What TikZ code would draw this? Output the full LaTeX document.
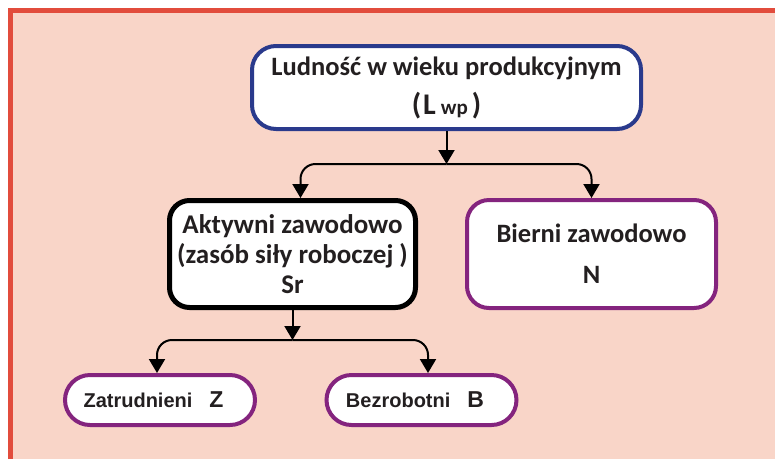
\documentclass[tikz,border=0pt]{standalone}
\usepackage{fontspec}
\setmainfont{Carlito}
\newfontfamily\arialbold{Liberation Sans}
\usetikzlibrary{arrows.meta}
\definecolor{bgpink}{RGB}{249,213,200}
\definecolor{framered}{RGB}{226,76,60}
\definecolor{boxblue}{RGB}{42,58,140}
\definecolor{boxpurple}{RGB}{132,36,126}
\definecolor{textdark}{RGB}{35,31,32}

\begin{document}
\begin{tikzpicture}[
  x=1pt, y=-1pt,
  every node/.style={text=textdark},
  topbox/.style={draw=boxblue, line width=4pt, rounded corners=24pt, fill=white, align=center, inner sep=0pt, minimum width=389pt, minimum height=83pt, font=\bfseries\fontsize{26.5}{36}\selectfont},
  midbox/.style={draw=black, line width=5pt, rounded corners=20pt, fill=white, align=center, inner sep=0pt, minimum width=246pt, minimum height=107pt, font=\bfseries\fontsize{27}{30}\selectfont},
  sidebox/.style={draw=boxpurple, line width=4pt, rounded corners=22pt, fill=white, align=center, inner sep=0pt, minimum width=249pt, minimum height=108pt, font=\bfseries\fontsize{26.5}{38}\selectfont},
  pill/.style={draw=boxpurple, line width=4pt, rounded corners=25pt, fill=white, align=center, inner sep=0pt, minimum width=190pt, minimum height=50pt, font=\arialbold\bfseries\fontsize{20}{22}\selectfont},
  arr/.style={-{Triangle[width=16pt,length=14pt]}, line width=2pt},
  branch/.style={arr, rounded corners=15pt}
]
\useasboundingbox (0,0) rectangle (775,459);
% frame
\fill[bgpink] (10,10) rectangle (775,459);
\draw[framered, line width=5pt] (10,459) -- (10,10) -- (775,10);

\node[topbox] (lwp) at (446.5,87.5) {Ludność w wieku produkcyjnym\\[3pt]
  {\fontsize{30}{36}\selectfont (\hspace{2pt}L\hspace{5pt}{\fontsize{21}{20}\selectfont wp}\hspace{4pt})}};
\node[midbox] (akt) at (292.5,254) {Aktywni zawodowo\\(zasób siły roboczej )\\Sr};
\node[sidebox] (bier) at (591.5,254) {Bierni zawodowo\\[3pt]N};
\node[pill] (zat) at (160,400) {Zatrudnieni\hspace{17pt}{\fontsize{23}{22}\selectfont Z}\hspace{13pt}};
\node[pill] (bez) at (421.5,400) {Bezrobotni\hspace{17pt}{\fontsize{23}{22}\selectfont B}\hspace{13pt}};

\coordinate (lvl1) at (0,164);
\coordinate (lvl2) at (0,340);

\draw[arr] (lwp.south) -- (lwp.south |- lvl1);
\draw[branch] (lwp.south |- lvl1) -| ([xshift=8pt]akt.north);
\draw[branch] (lwp.south |- lvl1) -| (bier.north);
\draw[arr] (akt.south) -- (akt.south |- lvl2);
\draw[branch] (akt.south |- lvl2) -| ([xshift=-3pt]zat.north);
\draw[branch] (akt.south |- lvl2) -| ([xshift=6.5pt]bez.north);
\end{tikzpicture}
\end{document}
